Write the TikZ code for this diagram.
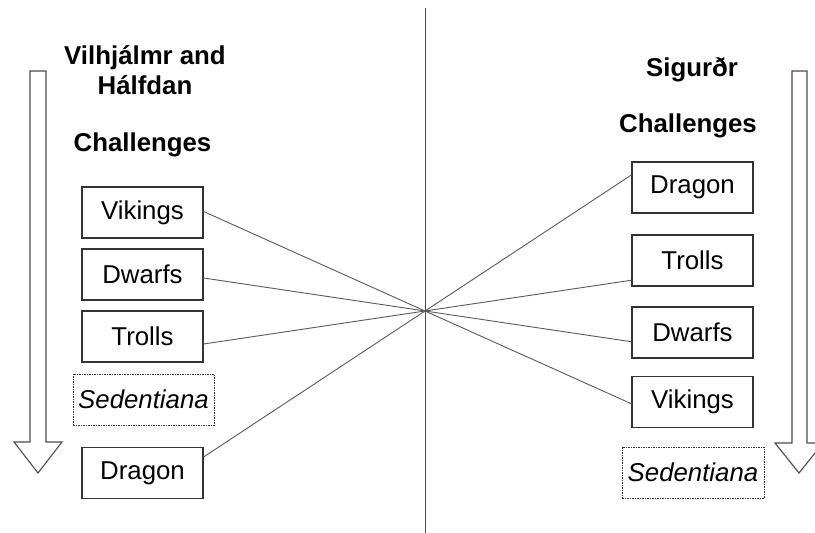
\documentclass[tikz,border=0pt]{standalone}
\usepackage{fontspec}
\setmainfont{Liberation Sans}
\begin{document}
\begin{tikzpicture}[x=1pt,y=-1pt,
  every node/.style={font=\fontsize{25.8}{30}\selectfont, inner sep=0pt},
  item/.style={draw=black!80, line width=1.2pt, minimum width=121pt, minimum height=51pt},
  extra/.style={draw=black!80, line width=0.9pt, dash pattern=on 1.5pt off 1pt,
                minimum width=141pt, minimum height=51pt, font=\fontsize{25.8}{30}\selectfont\itshape},
  heading/.style={font=\fontsize{25.8}{30}\selectfont\bfseries, align=center},
  link/.style={draw=black!65, line width=0.9pt},
  flow/.style={draw=black!70, line width=1.1pt, fill=white, line join=miter}]
\useasboundingbox (0,0) rectangle (815,533);

% central divider
\coordinate (divtop) at (425,8);
\coordinate (divbot) at (425,533);
\draw[draw=black!70, line width=1pt] (divtop) -- (divbot);

% downward flow arrows
\draw[flow] (30,71) -- (46,71) -- (46,442) -- (62,442) -- (38,473) -- (14,442) -- (30,442) -- cycle;
\draw[flow] (792,71) -- (807,71) -- (807,443) -- (823,443) -- (799,473) -- (775,443) -- (792,443) -- cycle;

% headings
\node[heading] (lhead) at (145,70) {Vilhjálmr and\\Hálfdan};
\node[heading] (lchal) at (142.5,145) {Challenges};
\node[heading] (rhead) at (692,70) {Sigurðr};
\node[heading] (rchal) at (688,126) {Challenges};

% left column
\node[item] (lvik) at (142.5,212.5) {Vikings};
\node[item] (ldwa) at (142.5,274.5) {Dwarfs};
\node[item] (ltro) at (142.5,336.5) {Trolls};
\node[extra] (lsed) at (143.5,399.5) {Sedentiana};
\node[item] (ldra) at (142.5,473) {Dragon};

% right column
\node[item] (rdra) at (692.5,187.5) {Dragon};
\node[item] (rtro) at (692.5,260.5) {Trolls};
\node[item] (rdwa) at (692.5,332.5) {Dwarfs};
\node[item] (rvik) at (692.5,402) {Vikings};
\node[extra, minimum width=142pt] (rsed) at (693,472.5) {Sedentiana};

% crossing point of all links
\coordinate (hub) at (425,311);

% link start points on the left boxes
\coordinate (avik) at ([yshift=1pt]lvik.east);
\coordinate (adwa) at ([yshift=-3.5pt]ldwa.east);
\coordinate (atro) at ([yshift=-7.5pt]ltro.east);
\coordinate (adra) at ([yshift=16pt]ldra.east);

% straight links through the hub to the matching right box
\draw[link] (avik) -- (intersection of avik--hub and rvik.north west--rvik.south west);
\draw[link] (adwa) -- (intersection of adwa--hub and rdwa.north west--rdwa.south west);
\draw[link] (atro) -- (intersection of atro--hub and rtro.north west--rtro.south west);
\draw[link] (adra) -- (intersection of adra--hub and rdra.north west--rdra.south west);
\end{tikzpicture}
\end{document}
